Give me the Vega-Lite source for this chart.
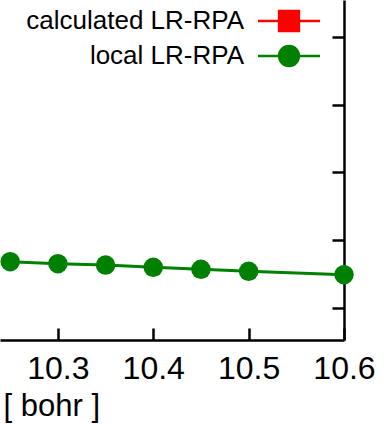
{
  "$schema": "https://vega.github.io/schema/vega-lite/v6.json",
  "width": 344,
  "height": 340,
  "autosize": {"type": "none"},
  "padding": {"left": 0, "top": 0, "right": 45, "bottom": 85},
  "background": "white",
  "config": {
    "font": "Liberation Sans",
    "view": {"stroke": null},
    "axis": {"grid": false}
  },
  "data": {
    "values": [
      {"r": 10.25, "e": -0.322, "series": "local LR-RPA"},
      {"r": 10.30, "e": -0.351, "series": "local LR-RPA"},
      {"r": 10.35, "e": -0.371, "series": "local LR-RPA"},
      {"r": 10.40, "e": -0.405, "series": "local LR-RPA"},
      {"r": 10.45, "e": -0.434, "series": "local LR-RPA"},
      {"r": 10.50, "e": -0.464, "series": "local LR-RPA"},
      {"r": 10.60, "e": -0.514, "series": "local LR-RPA"}
    ]
  },
  "encoding": {
    "x": {
      "field": "r",
      "type": "quantitative",
      "scale": {"domain": [10.2393, 10.6], "nice": false, "zero": false},
      "axis": {
        "orient": "bottom",
        "values": [10.3, 10.4, 10.5, 10.6],
        "format": ".1f",
        "domainColor": "black",
        "domainWidth": 2.5,
        "tickColor": "black",
        "tickWidth": 2.5,
        "tickSize": -12,
        "labelFontSize": 32,
        "labelColor": "black",
        "labelPadding": 25,
        "labelFlush": false,
        "labelOverlap": false,
        "title": "[ bohr ]",
        "titleFontSize": 31,
        "titleFontWeight": "normal",
        "titleColor": "black",
        "titleAnchor": "start",
        "titleAlign": "left",
        "titleBaseline": "alphabetic",
        "titleX": 3,
        "titleY": 75
      }
    },
    "y": {
      "field": "e",
      "type": "quantitative",
      "scale": {"domain": [-1.48, 3.55], "nice": false, "zero": false},
      "axis": {
        "orient": "right",
        "values": [-1, 0, 1, 2, 3],
        "labels": false,
        "title": null,
        "domainColor": "black",
        "domainWidth": 2.5,
        "tickColor": "black",
        "tickWidth": 2.5,
        "tickSize": -12
      }
    },
    "color": {
      "field": "series",
      "type": "nominal",
      "scale": {
        "domain": ["calculated LR-RPA", "local LR-RPA"],
        "range": ["#ff0000", "#008000"]
      },
      "legend": {
        "orient": "none",
        "legendX": 276,
        "legendY": 8,
        "title": null,
        "padding": 0,
        "rowPadding": 5,
        "symbolSize": 484,
        "symbolStrokeWidth": 2.5,
        "labelFontSize": 26,
        "labelColor": "black",
        "labelAlign": "right",
        "labelOffset": -58,
        "labelLimit": 400,
        "encode": {
          "symbols": {
            "update": {
              "shape": [
                {"test": "datum.value === 'calculated LR-RPA'", "value": "M-2.82,0H2.82M-0.9,-0.9H0.9V0.9H-0.9Z"},
                {"value": "M-2.82,0H2.82M-0.9,0A0.9,0.9,0,1,0,0.9,0A0.9,0.9,0,1,0,-0.9,0Z"}
              ],
              "fill": {"scale": "color", "field": "value"},
              "stroke": {"scale": "color", "field": "value"},
              "strokeWidth": {"value": 2.5},
              "opacity": {"value": 1},
              "fillOpacity": {"value": 1}
            }
          }
        }
      }
    }
  },
  "layer": [
    {"mark": {"type": "line", "strokeWidth": 3}},
    {"mark": {"type": "point", "shape": "circle", "filled": true, "size": 380, "opacity": 1}}
  ]
}
